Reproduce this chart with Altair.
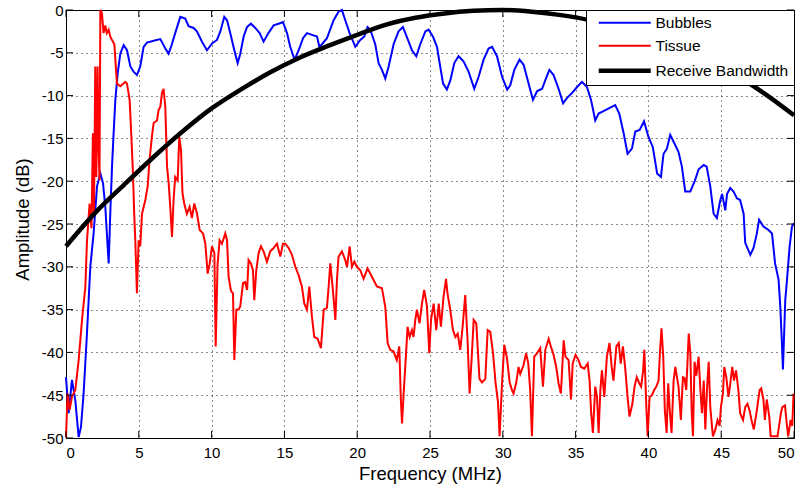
import altair as alt
import pandas as pd

# ---- spectra (frequency in MHz, amplitude in dB) ----
bubbles_freq = [
    0.00, 0.18, 0.41, 0.64, 0.87, 1.03, 1.21, 1.44, 1.67, 1.90, 2.13, 2.36, 2.54, 2.70, 2.81, 2.93,
    3.04, 3.16, 3.27, 3.39, 3.55, 3.73, 3.96, 4.19, 4.42, 4.64, 4.87, 5.10, 5.33, 5.56, 6.02, 6.48,
    6.82, 7.05, 7.27, 7.50, 7.85, 8.19, 8.42, 8.76, 8.99, 9.34, 9.68, 10.03, 10.37, 10.60, 10.87,
    11.06, 11.28, 11.56, 11.79, 11.97, 12.20, 12.43, 12.70, 13.00, 13.30, 13.57, 13.90, 14.26,
    14.60, 14.90, 15.18, 15.40, 15.70, 15.98, 16.28, 16.55, 16.90, 17.24, 17.40, 17.58, 17.92,
    18.38, 18.72, 18.95, 19.18, 19.48, 19.87, 20.21, 20.49, 20.71, 20.90, 21.24, 21.47, 21.70,
    21.93, 22.16, 22.50, 22.84, 23.14, 23.40, 23.76, 24.06, 24.33, 24.68, 24.90, 25.20, 25.48,
    25.70, 25.90, 26.16, 26.40, 26.67, 26.96, 27.30, 27.65, 28.04, 28.34, 28.68, 29.02, 29.26,
    29.60, 29.95, 30.30, 30.51, 30.79, 31.15, 31.43, 31.77, 32.07, 32.35, 32.70, 32.92, 33.20,
    33.49, 33.83, 34.14, 34.40, 34.75, 35.10, 35.44, 35.78, 36.06, 36.35, 36.58, 37.15, 37.72,
    38.00, 38.30, 38.57, 38.87, 39.10, 39.40, 39.70, 40.00, 40.30, 40.60, 40.86, 41.04, 41.27,
    41.50, 41.85, 42.07, 42.30, 42.53, 42.88, 43.20, 43.45, 43.80, 44.00, 44.25, 44.48, 44.70,
    44.94, 45.06, 45.28, 45.40, 45.62, 45.85, 46.08, 46.30, 46.54, 46.65, 47.00, 47.22, 47.45,
    47.60, 47.90, 48.25, 48.49, 48.70, 48.94, 49.06, 49.17, 49.24, 49.40, 49.52, 49.70, 49.86, 50.00,
]
bubbles_db = [
    -42.9, -47.1, -43.2, -45.6, -49.9, -48.7, -44.8, -37.8, -30.0, -26.0, -20.6, -19.1, -20.2, -23.0, -26.2, -29.6,
    -23.8, -18.3, -14.4, -10.5, -7.4, -5.1, -4.1, -4.7, -6.6, -7.2, -7.6, -6.6, -4.3, -3.8, -3.6, -3.4,
    -4.5, -5.1, -4.0, -2.7, -0.8, -1.0, -1.9, -2.1, -2.5, -3.7, -4.7, -3.9, -3.5, -2.5, -0.8,
    -1.2, -2.7, -4.7, -6.2, -5.1, -3.1, -2.0, -1.6, -2.1, -2.7, -3.7, -2.7, -1.8,
    -1.6, -1.4, -2.7, -4.3, -5.8, -4.7, -3.3, -2.7, -2.9, -3.1, -4.3, -4.0, -3.3,
    -1.2, -0.2, 0.0, -1.2, -2.7, -4.3, -3.5, -3.1, -2.0, -2.3, -4.0, -6.2, -7.0,
    -8.0, -6.6, -4.0, -2.5, -2.0, -3.1, -4.7, -5.4, -4.0, -2.5, -2.3, -3.1, -4.3,
    -6.6, -8.6, -9.3, -8.2, -6.2, -5.4, -6.0, -7.2, -9.2, -7.8, -5.8, -4.5, -4.3,
    -5.4, -7.8, -9.3, -8.8, -7.0, -5.8, -6.4, -8.6, -10.5, -9.5, -9.2, -8.2, -7.0,
    -7.6, -9.2, -10.9, -10.3, -9.7, -9.0, -8.4, -9.0, -10.5, -12.9, -12.1, -11.6, -11.1,
    -12.1, -14.4, -16.8, -16.2, -14.2, -14.0, -13.0, -14.8, -16.0, -19.1, -19.5, -16.8, -16.2,
    -14.6, -15.8, -16.6, -18.3, -21.2, -21.2, -19.9, -18.6, -18.1, -18.3, -20.6, -23.8, -24.3,
    -22.2, -21.5, -23.4, -21.5, -20.8, -21.2, -22.0, -22.2, -23.8, -27.2, -28.6, -27.8, -26.1,
    -24.5, -25.3, -25.7, -26.1, -29.6, -31.5, -34.7, -38.9, -42.0, -33.9, -31.5, -27.6, -25.3, -24.9,
]

tissue_freq = [
    0.00, 0.11, 0.25, 0.41, 0.64, 0.87, 1.10, 1.33, 1.44, 1.62, 1.75, 1.85, 1.92, 2.01, 2.08, 2.17,
    2.24, 2.30, 2.36, 2.47, 2.58, 2.70, 2.80, 2.93, 3.04, 3.16, 3.32, 3.39, 3.50, 3.73, 4.07, 4.19,
    4.37, 4.48, 4.60, 4.69, 4.76, 4.87, 4.99, 5.10, 5.22, 5.45, 5.61, 5.74, 5.90, 6.02, 6.25, 6.36,
    6.48, 6.59, 6.70, 6.82, 6.94, 7.05, 7.16, 7.28, 7.39, 7.50, 7.67, 7.78, 7.90, 8.00, 8.12, 8.30,
    8.49, 8.65, 8.81, 9.00, 9.18, 9.41, 9.57, 9.73, 9.86, 10.03, 10.19, 10.28, 10.41, 10.55, 10.71,
    10.94, 11.06, 11.17, 11.33, 11.47, 11.56, 11.70, 11.86, 11.97, 12.16, 12.30, 12.44, 12.54,
    12.70, 12.84, 12.93, 13.07, 13.23, 13.39, 13.57, 13.80, 14.03, 14.26, 14.49, 14.72, 14.90,
    15.06, 15.29, 15.52, 15.75, 15.98, 16.20, 16.37, 16.55, 16.71, 16.89, 17.05, 17.28, 17.51,
    17.70, 17.92, 18.04, 18.15, 18.33, 18.50, 18.61, 18.72, 18.95, 19.18, 19.30, 19.48, 19.64,
    19.80, 19.98, 20.21, 20.44, 20.71, 21.02, 21.35, 21.70, 21.93, 22.09, 22.27, 22.50, 22.72,
    22.89, 23.00, 23.08, 23.19, 23.30, 23.46, 23.60, 23.76, 23.87, 23.99, 24.10, 24.28, 24.45,
    24.60, 24.79, 24.95, 25.07, 25.25, 25.43, 25.60, 25.75, 25.93, 26.10, 26.20, 26.39, 26.58,
    26.74, 26.90, 27.08, 27.24, 27.42, 27.58, 27.72, 27.88, 28.00, 28.18, 28.27, 28.40, 28.57,
    28.80, 28.96, 29.14, 29.33, 29.50, 29.67, 29.78, 29.95, 30.10, 30.29, 30.47, 30.63, 30.74,
    30.93, 31.08, 31.20, 31.42, 31.60, 31.75, 31.88, 32.00, 32.16, 32.35, 32.57, 32.76, 32.92,
    33.15, 33.30, 33.49, 33.67, 33.83, 33.99, 34.18, 34.30, 34.52, 34.68, 34.80, 35.00, 35.20,
    35.37, 35.60, 35.83, 35.96, 36.07, 36.19, 36.35, 36.47, 36.58, 36.70, 36.81, 36.97, 37.15,
    37.33, 37.48, 37.60, 37.80, 37.96, 38.10, 38.25, 38.40, 38.57, 38.70, 38.90, 39.05, 39.20,
    39.37, 39.50, 39.64, 39.72, 39.86, 39.95, 40.08, 40.24, 40.40, 40.54, 40.70, 40.79, 40.90,
    41.02, 41.13, 41.25, 41.36, 41.48, 41.59, 41.73, 41.85, 41.96, 42.07, 42.23, 42.37, 42.48,
    42.60, 42.77, 42.88, 42.97, 43.06, 43.17, 43.29, 43.45, 43.57, 43.68, 43.80, 43.91, 44.02,
    44.14, 44.25, 44.43, 44.60, 44.75, 44.89, 44.98, 45.12, 45.21, 45.35, 45.50, 45.60, 45.76,
    45.88, 46.02, 46.18, 46.30, 46.50, 46.65, 46.80, 46.95, 47.08, 47.24, 47.42, 47.64, 47.75,
    47.90, 48.00, 48.13, 48.30, 48.40, 48.87, 49.10, 49.20, 49.38, 49.50, 49.60, 49.77, 49.88, 49.97,
]
tissue_db = [
    -49.9, -44.8, -46.7, -45.2, -44.4, -40.9, -36.2, -32.3, -27.0, -22.6, -25.5, -14.4, -24.0, -6.6, -19.5, -6.6,
    -16.4, -19.9, 0.0, -0.4, -2.7, -1.8, -2.7, -2.3, -3.1, -3.5, -4.0, -5.8, -8.6, -8.9, -8.4, -8.6,
    -10.5, -14.4, -19.1, -24.1, -26.9, -33.1, -26.9, -27.6, -23.8, -22.2, -20.6, -17.5, -14.8, -13.2, -12.9, -11.7,
    -11.3, -9.7, -9.2, -11.3, -18.3, -20.2, -23.0, -26.5, -22.2, -19.5, -19.9, -14.8, -16.4, -21.4, -22.6, -23.8,
    -23.0, -24.3, -22.6, -23.8, -25.7, -26.1, -27.3, -30.8, -29.7, -27.6, -28.4, -39.3, -29.7, -26.9, -27.3,
    -26.1, -26.9, -31.2, -32.8, -33.1, -40.9, -35.0, -35.0, -34.6, -31.9, -31.8, -32.7, -29.2,
    -29.6, -30.4, -33.9, -30.4, -28.4, -27.6, -28.2, -29.4, -28.2, -27.8, -27.3, -28.8, -27.3,
    -27.3, -27.8, -28.6, -30.0, -31.0, -32.3, -34.3, -35.0, -32.3, -35.8, -38.2, -38.4, -39.5,
    -35.0, -34.8, -32.3, -29.6, -32.7, -36.2, -31.5, -28.8, -28.2, -29.2, -30.0, -27.6, -30.0,
    -29.4, -30.0, -30.4, -31.4, -30.2, -31.2, -32.3, -32.5, -34.7, -38.9, -39.7, -39.9, -40.9,
    -39.3, -45.6, -48.3, -44.8, -41.7, -37.0, -38.2, -37.4, -38.2, -36.2, -35.0, -36.6, -34.3,
    -32.7, -34.6, -40.1, -36.2, -34.3, -37.4, -34.3, -37.0, -33.5, -31.4, -33.1, -35.0, -37.4,
    -38.2, -37.8, -39.7, -37.0, -33.3, -38.6, -44.8, -40.1, -36.2, -36.6, -39.3, -43.1, -43.5,
    -43.1, -37.4, -37.6, -40.1, -43.5, -45.8, -49.8, -43.5, -39.1, -40.7, -43.5, -44.4, -44.8,
    -43.5, -41.7, -42.5, -41.5, -40.1, -41.3, -44.4, -49.8, -40.5, -40.1, -39.5, -44.0, -39.7,
    -38.4, -39.3, -40.3, -41.7, -43.6, -44.8, -38.6, -40.5, -40.9, -45.5, -41.3, -40.3, -40.9,
    -41.7, -41.9, -41.3, -43.3, -47.1, -49.4, -44.0, -45.2, -49.4, -44.4, -42.1, -45.2, -40.5,
    -38.9, -41.7, -43.3, -39.3, -38.9, -41.3, -39.3, -41.7, -45.2, -47.5, -46.0, -44.0, -42.9,
    -43.6, -44.0, -42.1, -39.7, -46.4, -49.8, -45.2, -45.0, -44.4, -44.0, -43.3, -40.1, -37.2,
    -40.5, -46.8, -49.4, -43.6, -47.1, -49.4, -43.3, -41.7, -42.9, -44.0, -47.9, -42.9, -43.0,
    -44.4, -37.8, -40.1, -46.8, -49.8, -41.1, -42.7, -40.5, -44.4, -47.1, -43.3, -49.0, -44.4,
    -41.1, -46.4, -49.8, -49.0, -47.9, -48.6, -46.4, -44.8, -41.7, -42.9, -45.2, -44.0, -41.7,
    -43.3, -42.1, -44.4, -47.1, -47.9, -46.4, -46.0, -46.8, -47.9, -49.0, -47.1, -44.4, -44.2,
    -45.5, -47.9, -45.5, -47.5, -49.8, -49.8, -47.1, -46.4, -46.2, -48.3, -49.8, -47.9, -48.6, -44.8,
]

band_freq = [0, 2, 4, 6, 8, 10, 12, 14, 16, 18, 20, 22, 24, 26, 28, 30, 32, 34, 36, 38, 40, 42, 44, 46, 48, 50]
band_db = [-27.6, -23.7, -20.4, -17.2, -14.2, -11.5, -9.3, -7.3, -5.6, -4.2, -2.9, -1.7, -0.9, -0.4,
           -0.1, 0.0, -0.2, -0.6, -1.2, -2.1, -3.1, -4.3, -5.8, -7.6, -9.8, -12.3]

x_ticks = [0, 5, 10, 15, 20, 25, 30, 35, 40, 45, 50]
y_ticks = [-50, -45, -40, -35, -30, -25, -20, -15, -10, -5, 0]

series_names = ["Bubbles", "Tissue", "Receive Bandwidth"]
series_colors = ["#0000ff", "#ff0000", "#000000"]
series_widths = [2, 2, 4.5]

FONT = "Liberation Sans"
W, H = 728, 428
TICK = 7

bubbles = pd.DataFrame({"freq": bubbles_freq, "db": bubbles_db, "series": "Bubbles"})
tissue = pd.DataFrame({"freq": tissue_freq, "db": tissue_db, "series": "Tissue"})
band = pd.DataFrame({"freq": band_freq, "db": band_db, "series": "Receive Bandwidth"})

x_scale = alt.Scale(domain=[0, 50], nice=False, zero=False)
y_scale = alt.Scale(domain=[-50, 0], nice=False, zero=False)

legend = alt.Legend(
    title=None, orient="top-right", offset=0, padding=5,
    fillColor="white", strokeColor="black",
    labelFont=FONT, labelFontSize=15.5, labelColor="black",
    symbolType="M0,0H52", symbolSize=4, labelOffset=49, rowPadding=6,
)
color_enc = alt.Color("series:N", scale=alt.Scale(domain=series_names, range=series_colors), legend=legend)
width_enc = alt.StrokeWidth("series:N", scale=alt.Scale(type="ordinal", domain=series_names, range=series_widths),
                            legend=legend)

x_axis = alt.Axis(
    values=x_ticks, title="Frequency (MHz)", grid=True, domain=False, ticks=False,
    labelPadding=7, titleX=W / 2, titleY=41, titleBaseline="alphabetic",
)
y_axis = alt.Axis(
    values=y_ticks, title="Amplitude (dB)", grid=True, domain=False, ticks=False,
    labelPadding=3, labelExpr="'' + datum.value",
    titleX=-38, titleY=209, titleBaseline="alphabetic",
)


def spectrum(df, interp="linear"):
    return alt.Chart(df).mark_line(interpolate=interp, strokeCap="butt", strokeJoin="miter").encode(
        x=alt.X("freq:Q", scale=x_scale, axis=x_axis),
        y=alt.Y("db:Q", scale=y_scale, axis=y_axis),
        color=color_enc,
        strokeWidth=width_enc,
    )


xt = pd.DataFrame({"freq": x_ticks})
yt = pd.DataFrame({"db": y_ticks})
tick_x = alt.X("freq:Q", scale=x_scale, axis=x_axis)
tick_y = alt.Y("db:Q", scale=y_scale, axis=y_axis)

# inward box ticks on all four sides
ticks_bottom = alt.Chart(xt).mark_rule(color="black", strokeWidth=1).encode(
    x=tick_x, y=alt.value(H), y2=alt.value(H - TICK))
ticks_top = alt.Chart(xt).mark_rule(color="black", strokeWidth=1).encode(
    x=tick_x, y=alt.value(0), y2=alt.value(TICK))
ticks_left = alt.Chart(yt).mark_rule(color="black", strokeWidth=1).encode(
    y=tick_y, x=alt.value(0), x2=alt.value(TICK))
ticks_right = alt.Chart(yt).mark_rule(color="black", strokeWidth=1).encode(
    y=tick_y, x=alt.value(W), x2=alt.value(W - TICK))

chart = alt.layer(
    spectrum(bubbles), spectrum(tissue), spectrum(band, "monotone"),
    ticks_bottom, ticks_top, ticks_left, ticks_right,
).properties(
    width=W, height=H,
    autosize=alt.AutoSizeParams(type="none"),
    padding={"left": 66, "top": 10, "right": 8, "bottom": 54},
    background="white",
).configure_view(
    stroke="black", strokeWidth=1,
).configure_axis(
    labelFont=FONT, labelFontSize=15, labelColor="black",
    titleFont=FONT, titleFontSize=18.5, titleFontWeight="normal", titleColor="black",
    gridColor="black", gridDash=[1, 4], gridWidth=1, gridOpacity=0.9,
)

chart.save("out.html", embed_options={"renderer": "svg", "actions": False})
